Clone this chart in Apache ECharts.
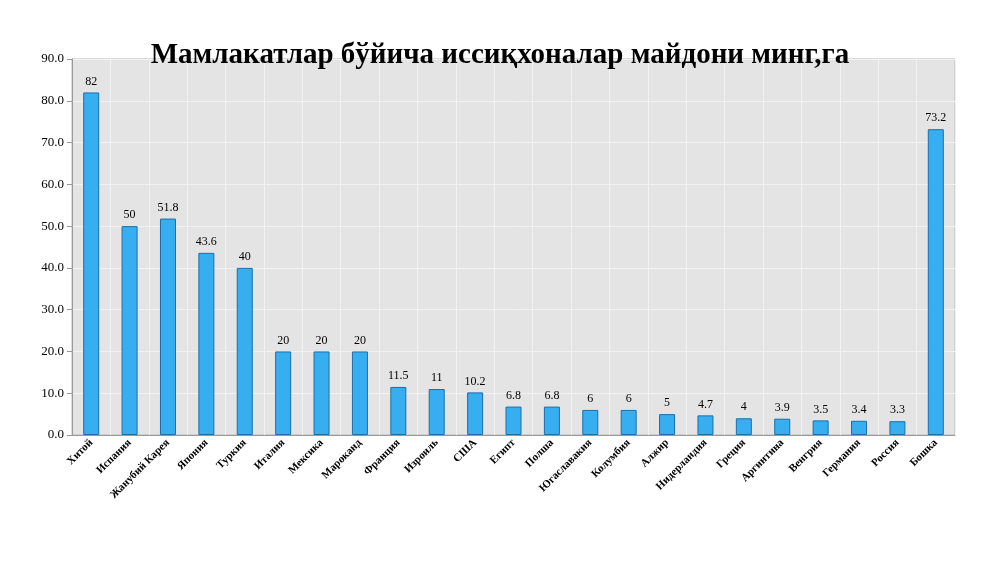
<!DOCTYPE html>
<html>
<head>
<meta charset="utf-8">
<script src="https://cdn.jsdelivr.net/npm/echarts@6/dist/echarts.min.js"></script>
</head>
<body style="margin:0;background:#fff;">
<div id="main" style="width:1000px;height:562px;"></div>
<script type="text/javascript">
    // мамлакатлар
    var countries = ['Хитой', 'Испания', 'Жанубий Карея', 'Япония', 'Туркия', 'Италия', 'Мексика', 'Мароканд',
        'Франция', 'Изроиль', 'США', 'Египт', 'Полша', 'Югаславакия', 'Колумбия', 'Алжир', 'Нидерландия',
        'Греция', 'Аргинтина', 'Венгрия', 'Германия', 'Россия', 'Бошка'];
    // майдони минг,га
    var areas = [82, 50, 51.8, 43.6, 40, 20, 20, 20, 11.5, 11, 10.2, 6.8, 6.8, 6, 6, 5, 4.7, 4, 3.9, 3.5, 3.4, 3.3, 73.2];

    var myChart = echarts.init(document.getElementById('main'));
    var option = {
        animation: false,
        textStyle: { fontFamily: 'Liberation Serif' },
        title: {
            text: 'Мамлакатлар бўйича иссиқхоналар майдони минг,га',
            left: 'center',
            top: 36,
            textStyle: { fontFamily: 'Liberation Serif', fontSize: 29, fontWeight: 'bold', color: '#000' }
        },
        grid: { left: 72, right: 45, top: 59, bottom: 127, show: true, backgroundColor: '#e4e4e4', borderColor: '#bbb' },
        xAxis: {
            type: 'category',
            data: countries,
            axisTick: { show: false },
            axisLine: { lineStyle: { color: '#999' } },
            splitLine: { show: true, lineStyle: { color: '#f2f2f2' } },
            axisLabel: { rotate: 45, interval: 0, fontSize: 11, fontWeight: 'bold', color: '#000', margin: 6 }
        },
        yAxis: {
            type: 'value',
            min: 0, max: 90, interval: 10,
            axisLine: { show: true, lineStyle: { color: '#999' } },
            axisTick: { show: true },
            splitLine: { lineStyle: { color: '#f2f2f2' } },
            axisLabel: { fontSize: 13, color: '#000', formatter: function (v) { return v.toFixed(1); } }
        },
        series: [{
            type: 'bar',
            data: areas,
            barWidth: 16,
            itemStyle: { color: '#37aef0', borderColor: '#1a6fa8', borderWidth: 1 },
            label: { show: true, position: 'top', color: '#000', fontSize: 12 }
        }]
    };
    myChart.setOption(option);
</script>
</body>
</html>
